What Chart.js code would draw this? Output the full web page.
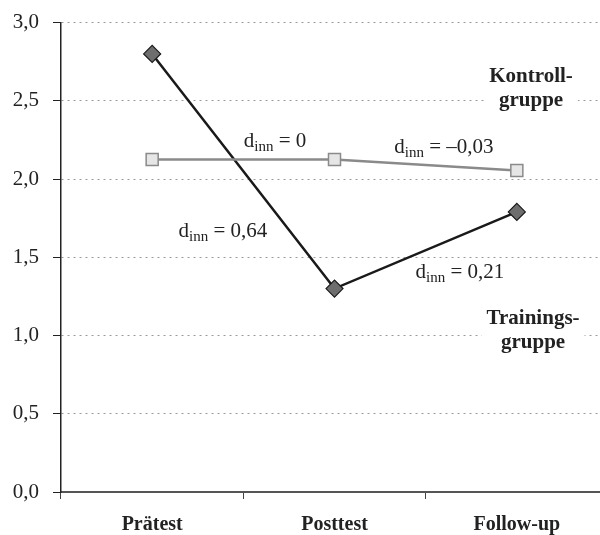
<!DOCTYPE html>
<html>
<head>
<meta charset="utf-8">
<script src="https://cdn.jsdelivr.net/npm/chart.js@4.4.0/dist/chart.umd.min.js"></script>
<style>
  html, body { margin: 0; padding: 0; background: #fff; overflow: hidden; }
  #outer { width: 600px; height: 535px; overflow: hidden; position: relative; }
  #wrap { width: 618px; height: 539px; margin-top: -4px; position: relative; }
</style>
</head>
<body>
<div id="outer"><div id="wrap"><canvas id="chart"></canvas></div></div>
<script>
// data
const categories = ['Prätest', 'Posttest', 'Follow-up'];
const trainingValues = [2.80, 1.30, 1.79];
const controlValues = [2.125, 2.125, 2.055];
const yTicks = [0, 0.5, 1, 1.5, 2, 2.5, 3];

// effect size labels: [x (category index), y (baseline value), text]
const effectLabels = [
    [0.674, 2.208, '= 0'],
    [0.388, 1.628, '= 0,64'],
    [1.60, 2.164, '= \u20130,03'],
    [1.688, 1.366, '= 0,21']
];
// group labels: [x, y, lines]
const groupLabels = [
    [2.078, 2.579, ['Kontroll-', 'gruppe']],
    [2.089, 1.034, ['Trainings-', 'gruppe']]
];

const SERIF = '"Liberation Serif", "Times New Roman", serif';

const annotationPlugin = {
    id: 'annotations',
    afterDatasetsDraw(chart) {
        const ctx = chart.ctx;
        const xs = chart.scales.x, ys = chart.scales.y;
        ctx.save();
        ctx.fillStyle = '#222';
        ctx.textBaseline = 'alphabetic';
        ctx.textAlign = 'left';
        effectLabels.forEach(([xv, yv, txt]) => {
            const cx = xs.getPixelForValue(xv);
            const cy = ys.getPixelForValue(yv);
            ctx.font = '21px ' + SERIF;
            const wD = ctx.measureText('d').width;
            const wT = ctx.measureText(' ' + txt).width;
            ctx.font = '15px ' + SERIF;
            const wS = ctx.measureText('inn').width;
            let x = cx - (wD + wS + wT) / 2;
            ctx.font = '21px ' + SERIF;
            ctx.fillText('d', x, cy);
            x += wD;
            ctx.font = '15px ' + SERIF;
            ctx.fillText('inn', x, cy + 4);
            x += wS;
            ctx.font = '21px ' + SERIF;
            ctx.fillText(' ' + txt, x, cy);
        });
        ctx.font = 'bold 21px ' + SERIF;
        ctx.textAlign = 'center';
        ctx.textBaseline = 'middle';
        groupLabels.forEach(([xv, yv, lines]) => {
            const cx = xs.getPixelForValue(xv);
            const cy = ys.getPixelForValue(yv);
            const w = Math.max(...lines.map(l => ctx.measureText(l).width)) + 10;
            ctx.fillStyle = '#fff';
            ctx.fillRect(cx - w / 2, cy - 26, w, 52);
            ctx.fillStyle = '#222';
            lines.forEach((l, i) => ctx.fillText(l, cx, cy - 12 + i * 24));
        });
        ctx.restore();
    }
};

new Chart(document.getElementById('chart'), {
    type: 'line',
    data: {
        labels: categories,
        datasets: [{
            label: 'Kontrollgruppe',
            data: controlValues,
            borderColor: '#8a8a8a',
            borderWidth: 2.5,
            pointStyle: 'rect',
            pointRadius: 8.5,
            pointBackgroundColor: '#e6e6e6',
            pointBorderColor: '#8a8a8a',
            pointBorderWidth: 1.5,
            tension: 0
        }, {
            label: 'Trainingsgruppe',
            data: trainingValues,
            borderColor: '#1a1a1a',
            borderWidth: 2.5,
            pointStyle: 'rectRot',
            pointRadius: 8.5,
            pointBackgroundColor: '#6e6e6e',
            pointBorderColor: '#1a1a1a',
            pointBorderWidth: 1.2,
            tension: 0
        }]
    },
    options: {
        responsive: true,
        maintainAspectRatio: false,
        animation: false,
        layout: { padding: { top: 12, right: 0, left: 0, bottom: 0 } },
        plugins: {
            legend: { display: false },
            tooltip: { enabled: false }
        },
        scales: {
            x: {
                offset: true,
                grid: { display: true, drawOnChartArea: false, tickLength: 7, color: '#444', offset: true },
                border: { color: '#555', width: 2 },
                ticks: {
                    color: '#222',
                    padding: 14,
                    font: { family: SERIF, size: 20, weight: 'bold' }
                },
                afterFit(scale) { scale.height = 43; }
            },
            y: {
                min: 0,
                max: 3,
                afterBuildTicks(scale) { scale.ticks = yTicks.map(v => ({ value: v })); },
                grid: {
                    color: '#9a9a9a',
                    lineWidth: 1,
                    tickLength: 8,
                    tickColor: '#222'
                },
                border: { color: '#222', width: 1.5, dash: [2, 4] },
                ticks: {
                    color: '#222',
                    padding: 14,
                    font: { family: SERIF, size: 21 },
                    callback: v => v.toFixed(1).replace('.', ',')
                },
                afterFit(scale) { scale.width = 61; }
            }
        }
    },
    plugins: [annotationPlugin]
});
</script>
</body>
</html>
